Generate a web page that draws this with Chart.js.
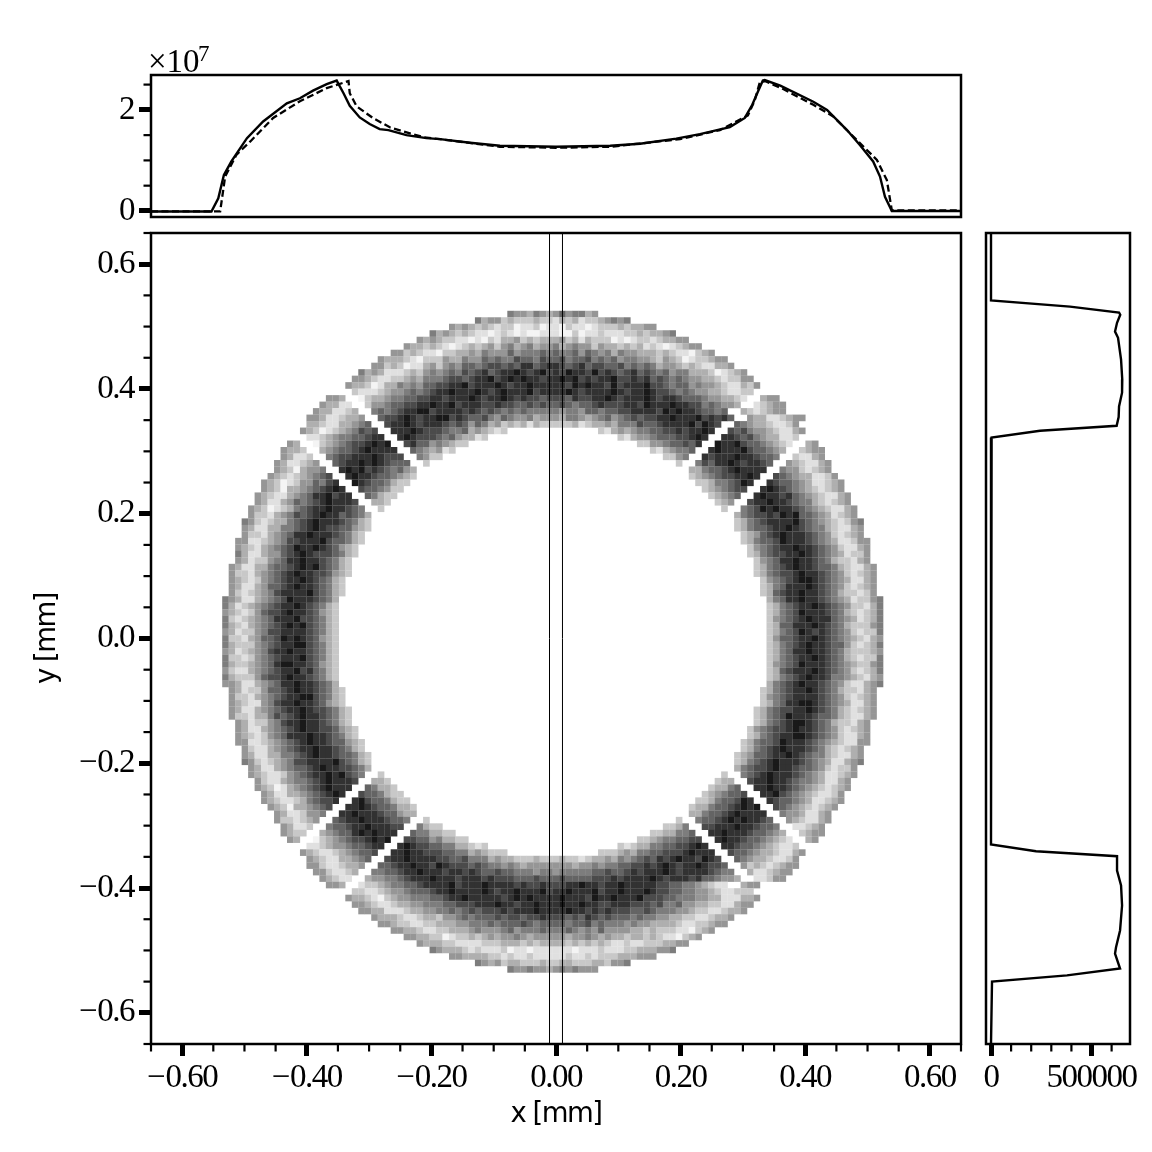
<!DOCTYPE html>
<html><head><meta charset="utf-8">
<script src="https://cdn.jsdelivr.net/npm/chart.js@4"></script>
<style>html,body{margin:0;padding:0;background:#fff;width:1152px;height:1152px;overflow:hidden}canvas{position:absolute}</style>
</head><body>
<canvas id="top" style="left:0;top:30px;width:972px;height:200px" width="972" height="200"></canvas>
<canvas id="main" style="left:0;top:222px;width:972px;height:930px" width="972" height="930"></canvas>
<canvas id="side" style="left:972px;top:222px;width:180px;height:930px" width="180" height="930"></canvas>
<script>
// Image cells: each row lists "firstColumn:levels" runs ('.' = empty bin), top row first.
const heatFirstRow = 12;
const heatRows = [
"55:54435434645534",
"50:534423222322132312234545",
"46:43432321220112011021101222323344",
"43:53432321101210100111002011211122323345",
"41:434322110102133423233342313222010122123344",
"39:4332321012323424534534453454424332323121012344",
"37:44232110223343544464555656556465453544333232110234",
"35:433321022243354465655766576675667565645544324320122344",
"34:44232011342454665677676886788767867766756565344323211334",
"32:534311123245456576786788987897879887978767867656455333201234",
"31:44321122343555677678897898988788989787889778786765654433212244",
"30:4332013354546677889788898788988888798988797888977656645443211324",
"31:21112344565678898889878988897888898788889878898776565443321122",
"27:443..023345566778878889878898787767776877889878889878876665443321..344",
"26:43311..24456677889889788877877667676676566787778879888988 77565443..12344",
"25:4331123..56567889978888787676565655555455466566778888798988 76656..3212344",
"24:443112334..67789878899787667546544534443554345645676778898889 78786..433112344",
"24:3321133456..78898788876764653423231322222312334355576678888979 87..6543321124",
"23:432012345767..888987776556343212 69:213434556677878898..767544321134",
"24:112345566788..89877765643312 72:21344566677898..887675433112",
"21:43..023456778989..7866454322 75:2244566768..988976654321..34",
"20:4332..345667898888..6543412 77:2134556..898889766543..2344",
"20:43112..567788898777..5422 79:2245..878889887665..21134",
"19:4311234..678898987666..2 81:2..576889878876..4321134",
"19:43203445..898978765643 83:335667898888..54421234",
"18:4321234567..89887665432 83:23456778898..7654331124",
"17:432012446578..987665322 84:223556798..876654311234",
"17:4320334567898..7665422 85:2345677..8987654321234",
"16:432113456889788..65322 86:23456..898878654321134",
"16:4311346567898887..332 87:234..7889887655321234",
"15:432012356788988765..2 88:2..567989887654321134",
"15:4221345767898867653 90:3567787989665431234",
"14:54212335678988876532 90:23567888897654321245",
"14:43113355678987766432 90:23566788987655321134",
"14:4221345688988876532 91:2346789888765421234",
"13:44112345778889766532 91:23566798887654311244",
"13:4321345679889876432 92:2456788988765421134",
"13:5311344678987776532 92:2356778898765431224",
"13:431224568898876532 93:245688988765322134",
"12:4311335667898976532 93:2356789887665321134",
"12:4221345678988776432 93:2356778988765421234",
"12:432124567889876532 94:245678998765431134",
"12:431134667898876532 94:235688898765421234",
"12:421234578888976532 94:236788988765322124",
"11:543113456798887653 95:356889887654312245",
"11:531234567889876532 95:235678898765422135",
"11:432124677898876432 95:235679888765321235",
"11:521234568889776532 95:245678988865431235",
"11:532134567898976532 95:236688898765322245",
"11:431224577888876532 95:235679878765421225",
"11:522134667989876432 95:246678898765432134",
"11:532224567889976532 95:235678988766421235",
"11:431234578898876532 95:235688988765322234",
"11:522124567888976532 95:235678898765321225",
"11:532234568998876432 95:245679888765432245",
"11:421134567889786532 95:236788898765421235",
"11:532224677898876532 95:235678988755432134",
"11:443113456889887653 95:356789887654211345",
"12:431224667898876532 94:235678898765322134",
"12:422134567889976532 94:245678888765421234",
"12:432114578898876432 94:235688998765431134",
"12:4311345678898776532 93:2356778898765321234",
"12:4221335767898876532 93:2356798887665321134",
"13:431224578898876532 93:235678998765322134",
"13:4311345678988776432 92:2456778988765421234",
"13:4321245688898876532 92:2356788998765421134",
"13:44112345678988766432 91:23566798887654321144",
"14:4211345678898876532 91:2356789888765321234",
"14:43113355678988766532 90:23466788987655321134",
"14:54212345778888976532 90:23567898887654311345",
"15:4311345667898877653 90:3567789887665421224",
"15:432112456788989765..2 88:2..567898887654311234",
"16:4211345567898887..332 87:233..7889887655431134",
"16:432013456789888..65332 86:23356..889887654321234",
"17:4311334567898..7665322 85:2345667..8897654321124",
"17:432112356778..897665322 84:223566798..876654311234",
"18:4320334567..88987665332 83:23356678989..7654321234",
"19:43112445..889888766433 83:335667898888..54431134",
"19:4221234..678898887665..2 81:2..566789898876..4321134",
"20:43112..566788988877..5322 79:2235..778889887665..11234",
"20:4322..345668989888..6553322 77:2233556..889888766543..2344",
"21:43..023456778989..7766453322 75:2234556677..898876654321..34",
"24:112344566788..89877665533212 72:21233556677898..887665432112",
"23:432112345667..889887776655343222 69:222343556677789888..766543321134",
"24:4321133456..78898888776675553433222322232212334354567687898879 87..6543321124",
"24:442112334..66788988798777676554543444444434454556677878987889 8776..423212344",
"25:4421123..55667889888788787667665554554555556676678788898788887655..3112344",
"26:43211..3445567888988878887877766676667666677787888898788878665443..11244",
"27:443..12234556678888978889888878778777889887889888887766554 3211..344",
"31:22112344566678898888987889888978898889788988898776655443211222",
"30:4332102344555667889888887898988889888798898889777665554433111334",
"31:44321123344555667778889887889888988988778887776755644332211344",
"32:443311123344556567677787888988889887878777667655544322112334",
"34:43332112332445656667677677877767687676665655443322112334",
"35:443221122333445556566676566665667565554544333321122344",
"37:44332112233345444564555655565454644443323222110234",
"39:4433220122323434454344444344543433233232110234",
"41:433322111122233323233332323232112112223344",
"43:54333212111201101111110111211122333445",
"46:44333322121121111121121222333444",
"50:543423322232233222332445",
"55:54454434545444"
].map(s=>s.replace(/(\d) (\d+)(?!\d*:)/g,'$1$2'));
const xMajor = [-0.6,-0.4,-0.2,0,0.2,0.4,0.6];
const yMajor = [-0.6,-0.4,-0.2,0,0.2,0.4,0.6];
const minorMm = [-0.65,-0.55,-0.5,-0.45,-0.35,-0.3,-0.25,-0.15,-0.1,-0.05,0.05,0.1,0.15,0.25,0.3,0.35,0.45,0.5,0.55,0.65];
const topMajor = [0,2];
const topMinor = [0.5,1,1.5,2.5];
const sideMajor = [0,500000];
const sideMinor = [100000,200000,300000,400000,600000];
const sliceEdges = [-0.0104,0.0104];
const topX =     [-0.65,-0.553,-0.542,-0.533,-0.521,-0.496,-0.47,-0.432,-0.411,-0.39,-0.368,-0.352,-0.341,-0.331,-0.315,-0.299,-0.283,-0.269,-0.24,-0.208,-0.186,-0.138,-0.09,0,0.087,0.135,0.193,0.231,0.279,0.303,0.315,0.324,0.332,0.335,0.36,0.413,0.435,0.467,0.488,0.509,0.52,0.528,0.539,0.65];
const topSolid = [-0.01,-0.01,0.25,0.71,0.98,1.44,1.77,2.13,2.23,2.38,2.51,2.58,2.33,2.08,1.85,1.72,1.62,1.6,1.5,1.44,1.42,1.35,1.29,1.27,1.29,1.33,1.43,1.52,1.66,1.84,2.1,2.36,2.58,2.59,2.48,2.16,2,1.6,1.3,0.98,0.68,0.28,0,0];
const topDashX = [-0.65,-0.539,-0.531,-0.513,-0.491,-0.454,-0.411,-0.368,-0.333,-0.331,-0.32,-0.294,-0.266,-0.213,-0.186,-0.09,0,0.087,0.199,0.263,0.308,0.319,0.327,0.335,0.36,0.413,0.445,0.483,0.515,0.531,0.539,0.65];
const topDashed = [-0.01,-0.01,0.68,1.11,1.37,1.84,2.17,2.43,2.57,2.33,2.07,1.84,1.65,1.46,1.42,1.27,1.25,1.27,1.42,1.6,1.89,2.19,2.54,2.57,2.44,2.1,1.87,1.4,1.01,0.61,0.01,0.01];
const sideY = [0.65,0.542,0.532,0.5225,0.519,0.506,0.492,0.482,0.447,0.415,0.394,0.372,0.355,0.341,0.333,0.322,-0.33,-0.341,-0.349,-0.372,-0.396,-0.428,-0.468,-0.495,-0.505,-0.529,-0.54,-0.55,-0.65];
const sideCounts = [0,0,393000,637000,643000,627000,617000,632000,647000,653000,652000,637000,635000,625000,244000,3000,0,224000,627000,627000,647000,652000,642000,622000,617000,642000,378000,5000,0];
const grayLevels = [244,224,200,175,150,125,100,75,50,25];

const serif = {family:'"Liberation Serif"',size:33};
const sans = {family:'"DejaVu Sans"',size:27.5};
const ink = '#000';

function frame(minorX, minorY, extra){
  return {id:'frame',
  beforeDraw(c){c.ctx.letterSpacing='-1.5px';},
  afterDatasetsDraw(c){
    const a=c.chartArea,g=c.ctx;g.save();g.strokeStyle=ink;g.lineWidth=2.5;
    g.strokeRect(a.left,a.top,a.right-a.left,a.bottom-a.top);
    g.lineWidth=2.2;
    (minorX||[]).forEach(v=>{const p=c.scales.x.getPixelForValue(v);g.beginPath();g.moveTo(p,a.bottom);g.lineTo(p,a.bottom+7.5);g.stroke();});
    (minorY||[]).forEach(v=>{const p=c.scales.y.getPixelForValue(v);g.beginPath();g.moveTo(a.left,p);g.lineTo(a.left-7.5,p);g.stroke();});
    g.letterSpacing='0px';
    if(extra)extra(g,a);g.restore();
  }};
}
function axis(min,max,major,fmt,size,horizontal){
  return {min,max,
    afterBuildTicks:s=>{s.ticks=major.map(v=>({value:v}));},
    afterFit:s=>{if(horizontal)s.height=size;else s.width=size;s.paddingTop=s.paddingBottom=s.paddingLeft=s.paddingRight=0;},
    border:{display:false},
    grid:{drawOnChartArea:false,drawTicks:true,tickLength:12,tickWidth:5,tickColor:ink},
    ticks:{autoSkip:false,maxRotation:0,color:'#000',font:serif,padding:horizontal?3:5,callback:fmt}};
}
const minus = s=>s.replace('-','\u2212\u200a');
const base = {responsive:false,animation:false,events:[],plugins:{legend:{display:false},tooltip:{enabled:false}}};

const cells=[],cellColors=[];
heatRows.forEach((row,r)=>{
  row.split(' ').forEach(seg=>{
    const [c,levels]=seg.split(':');
    [...levels].forEach((ch,k)=>{
      if(ch==='.')return;
      const col=+c+k,row2=heatFirstRow+r;
      cells.push({x:-0.65+(col+0.5)*1.3/125,y:0.65-(row2+0.5)*1.3/125});
      const g=grayLevels[+ch];cellColors.push(`rgb(${g},${g},${g})`);
    });
  });
});
const vline=v=>({data:[{x:v,y:-0.65},{x:v,y:0.65}],showLine:true,borderColor:'#000',borderWidth:1,pointRadius:0,order:0});

const xAxis=axis(-0.65,0.65,xMajor,v=>minus(v.toFixed(2)),108,true);
xAxis.title={display:true,text:'x [mm]',color:'#000',font:sans,padding:{top:0,bottom:21}};
const yAxis=axis(-0.65,0.65,yMajor,v=>minus(v.toFixed(1)),151,false);
yAxis.title={display:true,text:'y [mm]',color:'#000',font:sans,padding:{top:31,bottom:0}};

new Chart(document.getElementById('main'),{type:'scatter',
  data:{datasets:[vline(sliceEdges[0]),vline(sliceEdges[1]),
    {data:cells,pointStyle:'rect',pointRadius:4.7,pointBorderWidth:0,backgroundColor:cellColors,pointBackgroundColor:cellColors,order:1}]},
  options:{...base,layout:{padding:{top:11,right:11,bottom:0,left:0}},scales:{x:xAxis,y:yAxis}},
  plugins:[frame(minorMm,minorMm)]});

const pairs=(xs,ys)=>xs.map((x,i)=>({x,y:ys[i]}));
new Chart(document.getElementById('top'),{type:'scatter',
  data:{datasets:[
    {data:pairs(topX,topSolid),showLine:true,borderColor:'#000',borderWidth:2.4,pointRadius:0,tension:0},
    {data:pairs(topDashX,topDashed),showLine:true,borderColor:'#000',borderWidth:2.3,borderDash:[7,3.5],pointRadius:0,tension:0}]},
  options:{...base,layout:{padding:{top:45,right:11,bottom:13,left:0}},
    scales:{x:{display:false,min:-0.65,max:0.65},y:axis(-0.12,2.69,topMajor,v=>String(v),151,false)}},
  plugins:[frame(null,topMinor,(g,a)=>{
    g.fillStyle='#000';g.textBaseline='alphabetic';g.textAlign='left';
    g.font='33px "Liberation Serif"';g.fillText('\u00d710',148,a.top-3);
    g.font='23px "Liberation Serif"';g.fillText('7',198,a.top-14);
  })]});

new Chart(document.getElementById('side'),{type:'scatter',
  data:{datasets:[{data:pairs(sideCounts,sideY),showLine:true,borderColor:'#000',borderWidth:2.4,pointRadius:0,tension:0}]},
  options:{...base,layout:{padding:{top:11,right:22,bottom:0,left:14}},
    scales:{x:axis(-24900,691500,sideMajor,v=>String(v),108,true),y:{display:false,min:-0.65,max:0.65}}},
  plugins:[frame(sideMinor,null)]});
</script>
</body></html>
